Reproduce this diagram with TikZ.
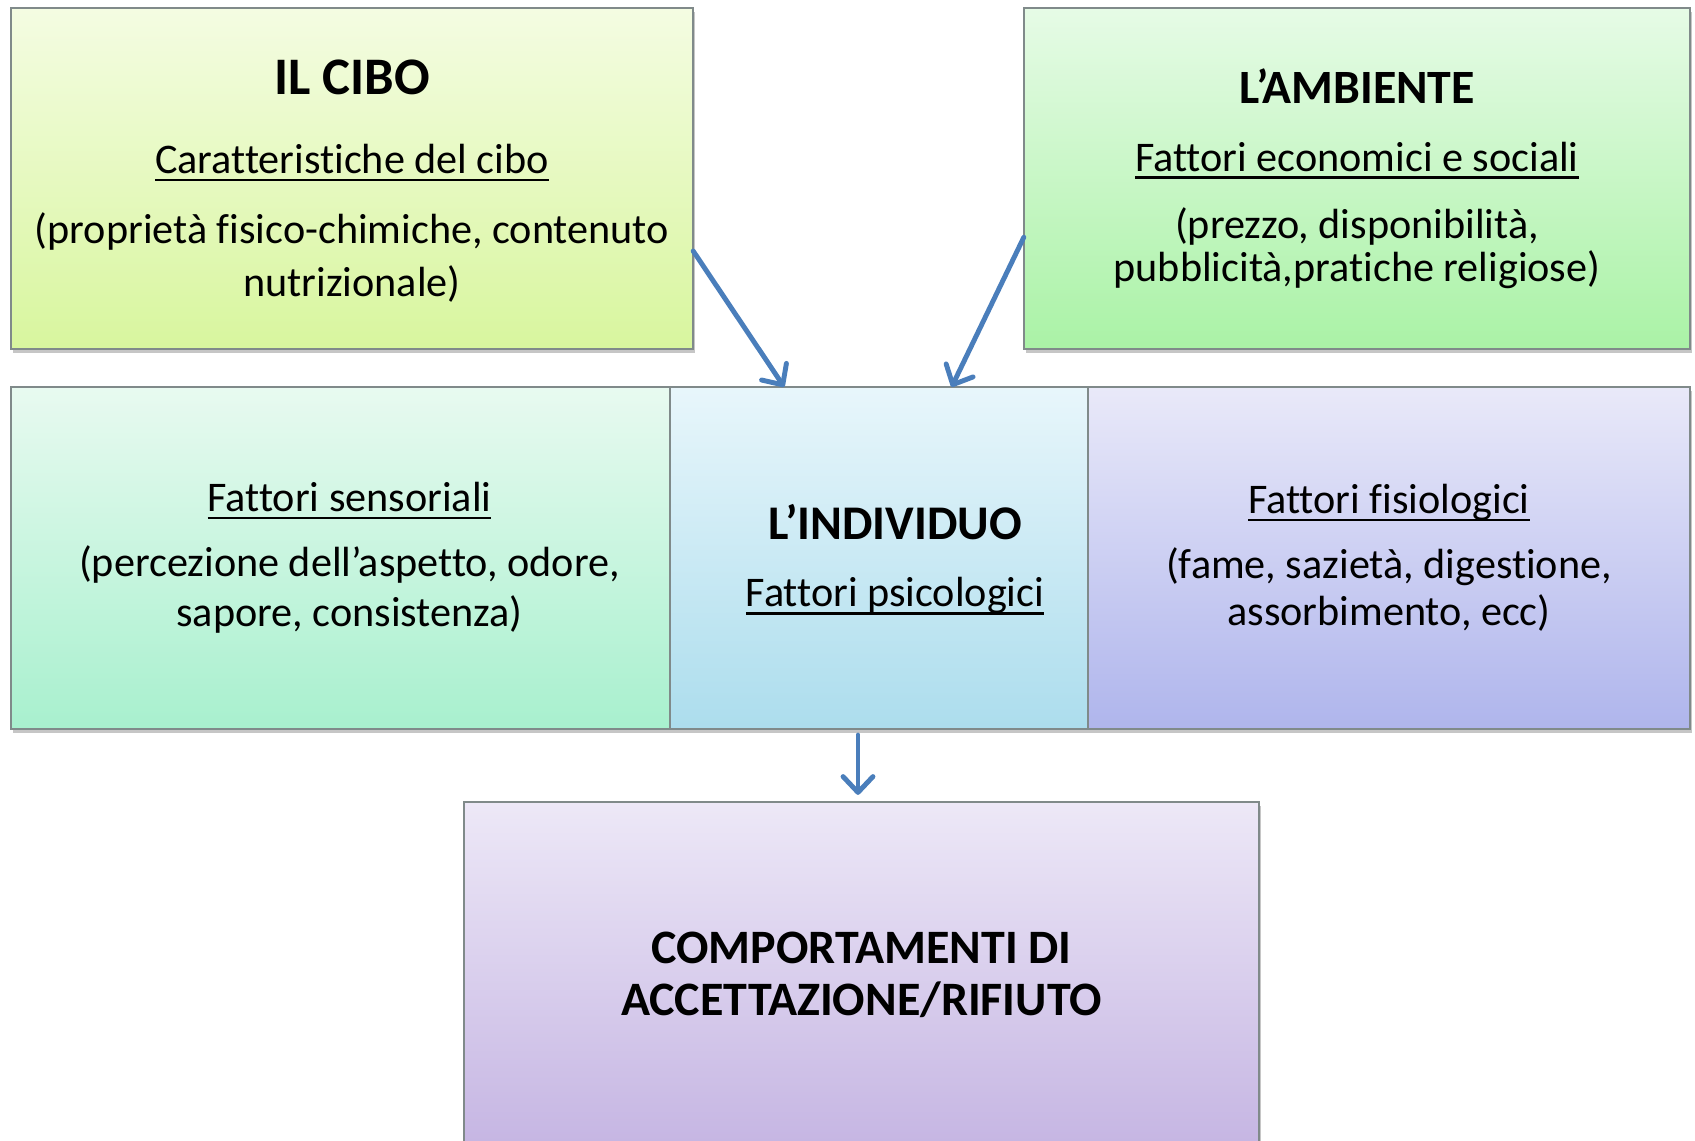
\documentclass[tikz,border=0pt]{standalone}
\usepackage{fontspec}
\setmainfont{Carlito}[Ligatures={TeX,NoCommon}]
\usetikzlibrary{arrows.meta,shadows}

% underline at a fixed depth, as in the slide
\newcommand{\sotto}[1]{\setbox0=\hbox{#1}\rlap{\rule[-2.2pt]{\wd0}{0.7pt}}\box0}

\definecolor{bordo}{RGB}{128,138,138}
\definecolor{freccia blu}{RGB}{74,126,187}
\definecolor{ciboA}{RGB}{244,252,226}
\definecolor{ciboB}{RGB}{216,246,158}
\definecolor{ambA}{RGB}{230,251,230}
\definecolor{ambB}{RGB}{170,242,166}
\definecolor{sensA}{RGB}{232,250,240}
\definecolor{sensB}{RGB}{168,240,206}
\definecolor{indA}{RGB}{232,246,251}
\definecolor{indB}{RGB}{172,221,237}
\definecolor{fisA}{RGB}{233,233,249}
\definecolor{fisB}{RGB}{175,181,236}
\definecolor{compA}{RGB}{237,232,247}
\definecolor{compB}{RGB}{198,182,227}

\tikzset{
  riquadro/.style={draw=bordo, line width=0.55pt, inner sep=0pt, outer sep=0pt,
    align=center, font=\fontsize{12}{14.8}\selectfont,
    drop shadow={shadow xshift=0.6pt, shadow yshift=-1.1pt, opacity=0.45}},
  freccia/.style={draw=freccia blu, line width=1.4pt, line cap=round,
    -{Straight Barb[length=4.5pt,width=8.5pt,round]}}
}

\begin{document}
\begin{tikzpicture}[x=0.01cm, y=-0.01cm]
        \useasboundingbox (0,0) rectangle (1695,1140);

        % Top row: food and environment
        \node[riquadro, top color=ciboA, bottom color=ciboB, minimum width=6.82cm, minimum height=3.41cm]
          (cibo) at (352,178.5) {\rule{0pt}{11.3pt}{\fontsize{15}{15}\selectfont\bfseries IL CIBO}\\[7.7pt]
          \sotto{Caratteristiche del cibo}\\[5.1pt]
          (proprietà fisico-chimiche, contenuto\\[0.3pt] nutrizionale)};
        \node[riquadro, top color=ambA, bottom color=ambB, minimum width=6.66cm, minimum height=3.41cm]
          (ambiente) at (1357,178.5) {{\fontsize{13.6}{13.6}\selectfont\bfseries L’AMBIENTE}\\[4.5pt]
          \sotto{Fattori economici e sociali}\\[4.3pt]
          (prezzo, disponibilità,\\[-2.6pt] pubblicità,pratiche religiose)};

        % Middle row: the individual
        \node[riquadro, top color=sensA, bottom color=sensB, minimum width=6.59cm, minimum height=3.42cm]
          (sensori) at (340.5,558) {\hspace*{0.18cm}\sotto{Fattori sensoriali}\\[3.7pt]
          \hspace*{0.18cm}(percezione dell’aspetto, odore,\\[-0.6pt]
          \hspace*{0.18cm}sapore, consistenza)};
        \node[riquadro, top color=indA, bottom color=indB, minimum width=4.18cm, minimum height=3.42cm]
          (individuo) at (879,558) {\hspace*{0.32cm}\rule{0pt}{10.7pt}{\fontsize{13.75}{13.75}\selectfont\bfseries L’INDIVIDUO}\\[4.5pt]
          \hspace*{0.32cm}\sotto{Fattori psicologici}};
        \node[riquadro, top color=fisA, bottom color=fisB, minimum width=6.02cm, minimum height=3.42cm]
          (fisio) at (1389,558) {\sotto{Fattori fisiologici}\\[3.7pt]
          (fame, sazietà, digestione,\\[-1.4pt] assorbimento, ecc)};

        % Bottom: behaviour
        \node[riquadro, top color=compA, bottom color=compB, minimum width=7.95cm, minimum height=3.40cm,
          font=\fontsize{13.65}{14.6}\selectfont\bfseries]
          (comp) at (861.5,972) {\rule{0pt}{10.6pt}COMPORTAMENTI DI\\ ACCETTAZIONE/RIFIUTO};

        % Arrows
        \draw[freccia] (cibo.-12.2) -- (individuo.119.4);
        \draw[freccia] (ambiente.190.1) -- (individuo.67.6);
        \draw[freccia, shorten <=1.7pt, shorten >=2pt] ([xshift=-0.035cm]comp.north |- individuo.south) -- ([xshift=-0.035cm]comp.north);
    \end{tikzpicture}
\end{document}
